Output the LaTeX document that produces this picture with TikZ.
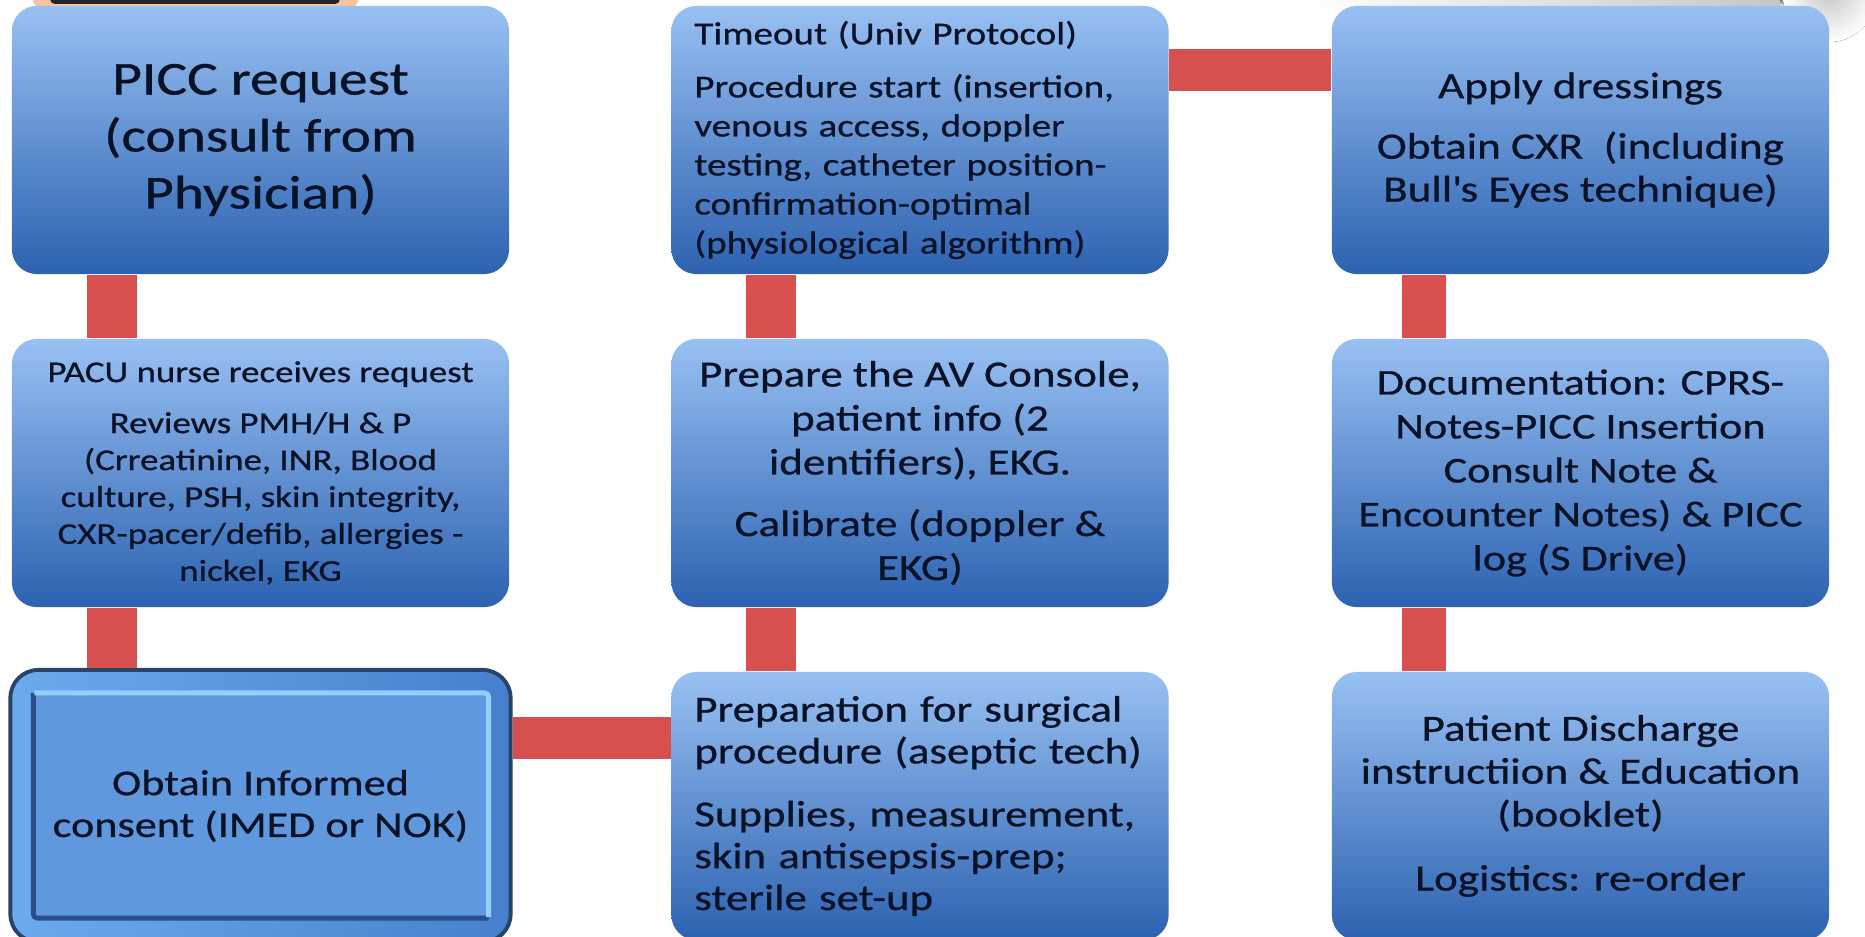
\documentclass[tikz,border=0pt]{standalone}
\usepackage{fontspec}
\setmainfont{Carlito}[FakeStretch=1.22, FakeBold=0.7]
\usetikzlibrary{calc}

\definecolor{boxtop}{RGB}{152,192,243}
\definecolor{boxbot}{RGB}{44,98,176}
\definecolor{ink}{RGB}{8,18,38}
\definecolor{linkred}{RGB}{214,80,80}
\definecolor{framecol}{RGB}{40,66,104}
\definecolor{frameleft}{RGB}{108,170,238}
\definecolor{frameright}{RGB}{70,128,204}
\definecolor{consentfill}{RGB}{96,152,222}
\definecolor{bevellight}{RGB}{150,205,252}
\definecolor{beveldark}{RGB}{42,78,138}
\definecolor{peach}{RGB}{246,196,160}
\definecolor{slate}{RGB}{36,36,38}
\definecolor{shade}{RGB}{198,198,198}

\newcommand{\fsz}[2]{\fontsize{#1}{#2}\selectfont}

\tikzset{
  stepbox/.style={rectangle, rounded corners=0.25cm, minimum width=4.97cm,
    minimum height=2.68cm, inner sep=0pt, top color=boxtop, bottom color=boxbot,
    text=ink, align=center},
  leftbox/.style={stepbox, align=left, text width=4.51cm},
  vlink/.style={draw=linkred, line width=0.5cm},
  hlink/.style={draw=linkred, line width=0.42cm},
  consentbox/.style={rectangle, rounded corners=0.28cm, minimum width=5.0cm,
    minimum height=2.72cm, inner sep=0pt, draw=framecol, line width=1.1pt,
    left color=frameleft, right color=frameright, text=ink, align=center,
    path picture={
      \fill[consentfill, rounded corners=0.04cm]
        ([shift={(0.23cm,-0.23cm)}]path picture bounding box.north west)
        rectangle ([shift={(-0.22cm,0.24cm)}]path picture bounding box.south east);
      \draw[beveldark, line width=1.4pt, rounded corners=0.04cm]
        ([shift={(-0.22cm,0.24cm)}]path picture bounding box.south east)
        -- ([shift={(0.23cm,0.24cm)}]path picture bounding box.south west)
        -- ([shift={(0.23cm,-0.23cm)}]path picture bounding box.north west);
      \draw[bevellight, line width=1.4pt, rounded corners=0.04cm]
        ([shift={(0.24cm,-0.23cm)}]path picture bounding box.north west)
        -- ([shift={(-0.22cm,-0.23cm)}]path picture bounding box.north east)
        -- ([shift={(-0.22cm,0.25cm)}]path picture bounding box.south east);
    }},
}

\begin{document}
\begin{tikzpicture}[x=0.01cm, y=-0.01cm]
  % page
  \fill[white] (0,0) rectangle (1865,937);
  \useasboundingbox (0,0) rectangle (1865,937);

  % edge of an object peeking in at the top left
  \fill[peach, rounded corners=0.07cm] (33,-40) rectangle (358,7);
  \fill[slate, rounded corners=0.05cm] (50,-40) rectangle (340,4);

  % soft grey shadow at the top right
  \fill[left color=white, right color=shade] (1300,0) rectangle (1780,7);
  \fill[shade] (1780,0) rectangle (1830,7);
  \fill[inner color=shade, outer color=white] (1830,-10) ellipse (48 and 52);

  % column 1
  \node[stepbox, font=\fsz{13.4}{16.2}] (req) at (260.5,140)
    {PICC request\\(consult from\\Physician)};
  \node[stepbox, font=\fsz{8.6}{10.5}] (pacu) at (260.5,473)
    {PACU nurse receives request\\[4pt]Reviews PMH/H \& P\\(Crreatinine, INR, Blood\\culture, PSH, skin integrity,\\CXR-pacer/defib, allergies -\\nickel, EKG};
  \node[consentbox, font=\fsz{10.3}{11.9}] (consent) at (260.5,806)
    {Obtain Informed\\consent (IMED or NOK)};

  % column 2
  \node[leftbox, font=\fsz{9.1}{11.1}] (timeout) at (920,140)
    {Timeout (Univ Protocol)\\[4pt]Procedure start (insertion,\\venous access, doppler\\testing, catheter position-\\confirmation-optimal\\(physiological algorithm)};
  \node[stepbox, font=\fsz{10.5}{12.5}] (console) at (920,473)
    {Prepare the AV Console,\\patient info (2\\identifiers), EKG.\\[5pt]Calibrate (doppler \&\\EKG)};
  \node[leftbox, font=\fsz{10.45}{11.9}] (prep) at (920,806)
    {Preparation for surgical\\procedure (aseptic tech)\\[6pt]Supplies, measurement,\\skin antisepsis-prep;\\sterile set-up};

  % column 3
  \node[stepbox, font=\fsz{10.55}{12.2}] (dress) at (1580.5,140)
    {Apply dressings\\[5pt]Obtain CXR\ \ (including\\Bull\textquotesingle s Eyes\ technique)};
  \node[stepbox, font=\fsz{10.3}{12.5}] (doc) at (1580.5,473)
    {Documentation: CPRS-\\Notes-PICC Insertion\\Consult Note \&\\Encounter Notes) \& PICC\\log (S Drive)};
  \node[stepbox, font=\fsz{10.5}{12.2}] (disch) at (1580.5,806)
    {Patient Discharge\\instructiion \& Education\\(booklet)\\[6pt]Logistics: re-order};

  % connectors
  \draw[vlink] ([xshift=1.01cm]req.south west) -- ([xshift=1.01cm]req.south west |- pacu.north);
  \draw[vlink] ([xshift=1.01cm]pacu.south west) -- ([xshift=1.01cm]pacu.south west |- consent.north);
  \draw[hlink] ([yshift=-0.665cm]prep.north west) -- ([yshift=-0.665cm]prep.north west -| consent.east);
  \draw[vlink] ([xshift=1.0cm]prep.north west) -- ([xshift=1.0cm]prep.north west |- console.south);
  \draw[vlink] ([xshift=1.0cm]console.north west) -- ([xshift=1.0cm]console.north west |- timeout.south);
  \draw[hlink] ([yshift=-0.645cm]timeout.north east) -- ([yshift=-0.645cm]timeout.north east -| dress.west);
  \draw[vlink, line width=0.44cm] ([xshift=0.93cm]dress.south west) -- ([xshift=0.93cm]dress.south west |- doc.north);
  \draw[vlink, line width=0.44cm] ([xshift=0.93cm]doc.south west) -- ([xshift=0.93cm]doc.south west |- disch.north);
\end{tikzpicture}
\end{document}
